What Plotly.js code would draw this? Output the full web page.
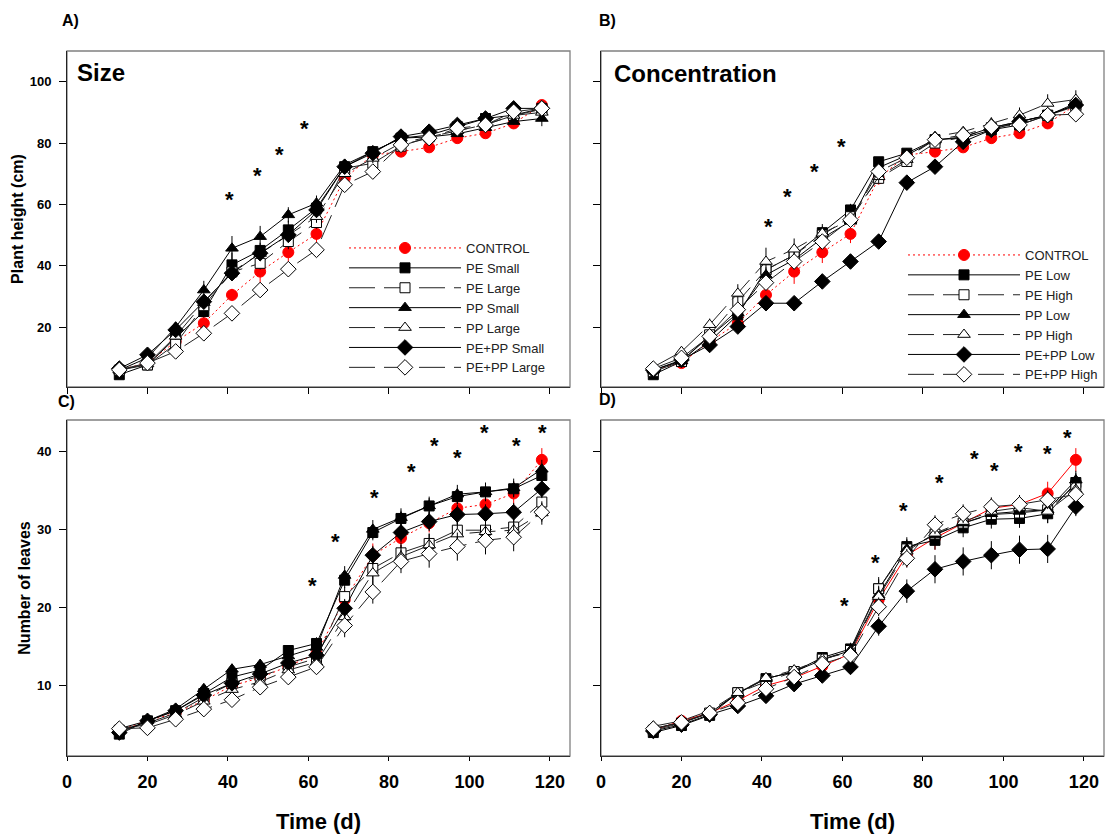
<!DOCTYPE html>
<html><head><meta charset="utf-8">
<script src="https://cdn.plot.ly/plotly-3.0.1.min.js"></script>
<style>html,body{margin:0;padding:0;background:#fff}#chart{width:1105px;height:834px}</style>
</head><body><div id="chart"></div>
<script>
// ---------------- DATA ----------------
const days = [13,20,27,34,41,48,55,62,69,76,83,90,97,104,111,118];

// Plant height (cm)
const controlHeight    = [6.1,8.3,15.3,21.3,30.5,38.1,44.4,50.4,68.5,76.1,77.2,78.6,81.6,83.2,86.4,92.4];
const peSmallHeight    = [4.5,7.7,16.5,25.1,40.3,45.0,51.7,58.8,72.3,77.2,81.6,82.6,85.3,88.0,89.1,91.3];
const peLargeHeight    = [6.0,7.7,14.5,27.0,38.0,40.8,47.9,54.1,71.8,73.4,79.0,82.0,84.0,86.0,89.0,91.0];
const ppSmallHeight    = [6.0,10.0,20.0,32.1,45.7,49.5,56.6,60.4,72.9,77.2,81.6,82.0,83.0,85.0,87.0,88.0];
const ppLargeHeight    = [6.0,8.0,17.0,28.0,38.0,44.0,50.0,56.0,70.0,75.0,80.0,82.0,84.0,86.0,89.0,90.0];
const pePpSmallHeight  = [6.5,11.0,19.1,28.3,37.6,44.1,50.1,58.2,72.3,76.7,82.1,83.7,85.9,88.0,91.3,91.3];
const pePpLargeHeight  = [6.1,8.3,12.1,18.0,24.5,32.1,38.9,45.2,66.4,70.7,79.4,81.6,84.8,85.9,90.2,91.3];

const peLowHeight      = [4.5,8.8,15.3,24.0,38.7,43.5,50.8,58.2,73.9,76.7,81.1,81.6,84.3,85.9,89.1,92.4];
const peHighHeight     = [5.5,8.8,17.5,28.3,38.7,43.5,50.0,56.0,68.5,74.0,80.0,82.0,85.0,87.0,89.0,92.0];
const ppLowHeight      = [6.0,9.0,17.0,24.6,37.0,42.0,49.0,54.5,72.0,76.0,81.0,82.0,85.0,87.0,89.0,93.0];
const ppHighHeight     = [7.0,12.0,20.8,31.0,41.4,45.4,50.6,55.0,69.0,74.6,82.1,83.7,86.4,89.1,92.9,94.2];
const pePpLowHeight    = [6.0,9.3,14.2,20.2,27.8,27.8,34.9,41.4,47.9,67.1,72.3,80.4,84.3,87.0,89.1,92.4];
const pePpHighHeight   = [6.5,10.0,17.0,25.7,34.5,41.4,47.9,55.0,70.7,75.2,81.1,82.6,85.3,85.9,89.1,89.4];

// Number of leaves
const controlLeaves    = [4.3,5.5,6.5,8.1,10.0,11.0,12.5,14.1,21.0,26.7,28.9,30.8,32.7,33.2,34.6,38.9];
const peSmallLeaves    = [3.8,5.5,6.8,9.0,11.1,12.0,14.5,15.4,23.5,29.6,31.4,33.0,34.2,34.8,35.2,36.9];
const peLargeLeaves    = [4.3,5.2,6.5,8.5,10.3,11.2,12.4,13.5,21.4,25.0,27.0,28.2,29.9,29.9,30.3,33.5];
const ppSmallLeaves    = [4.5,5.5,7.0,9.6,12.1,12.7,13.8,14.9,24.1,30.0,31.5,33.0,34.5,34.8,35.3,37.7];
const ppLargeLeaves    = [4.5,5.0,6.3,8.0,9.5,10.5,12.0,13.0,18.8,24.4,26.5,28.0,29.4,29.7,29.9,32.1];
const pePpSmallLeaves  = [4.0,5.5,6.8,8.8,10.3,11.5,12.9,13.9,19.9,26.7,29.6,31.0,31.9,32.0,32.2,35.2];
const pePpLargeLeaves  = [4.5,4.6,5.7,7.0,8.2,9.8,11.1,12.4,17.7,22.0,25.9,26.9,27.8,28.6,29.0,32.2];

const peLowLeaves      = [4.0,4.9,6.2,9.1,10.9,11.8,13.6,14.7,22.4,27.8,28.6,30.2,31.3,31.4,32.0,36.0];
const peHighLeaves     = [4.3,5.2,6.5,9.1,10.5,11.8,13.4,14.5,22.4,27.5,29.4,30.8,31.9,32.1,32.5,35.7];
const ppLowLeaves      = [4.5,5.3,6.5,9.0,10.9,11.8,13.3,14.5,21.6,27.5,29.3,30.8,32.0,32.3,32.5,36.3];
const ppHighLeaves     = [4.8,5.5,6.8,9.1,11.0,12.0,13.4,14.3,21.4,27.2,29.5,31.0,32.3,32.8,32.3,35.1];
const pePpLowLeaves    = [4.2,5.0,6.3,7.4,8.7,10.2,11.3,12.4,17.6,22.1,24.9,25.9,26.7,27.4,27.5,32.9];
const pePpHighLeaves   = [4.5,5.3,6.5,7.8,9.6,11.1,12.8,13.9,20.1,26.3,30.6,32.0,32.9,33.2,33.8,34.5];

// Standard errors
const controlHeightErr   = [0.5,0.8,1.5,1.5,2.0,4.0,3.5,3.0,2.0,1.5,1.2,1.0,1.0,1.0,1.5,1.5];
const peSmallHeightErr   = [0.5,0.8,1.2,2.0,4.0,2.5,3.0,2.0,1.5,1.5,1.2,1.0,1.0,1.0,1.0,1.0];
const peLargeHeightErr   = [0.5,0.8,1.0,1.5,2.0,2.0,2.5,2.0,1.5,1.5,1.0,1.0,1.0,1.0,1.0,1.0];
const ppSmallHeightErr   = [0.5,0.8,1.5,3.0,4.0,3.5,2.5,2.5,1.5,1.5,1.0,1.0,1.0,1.0,1.0,2.5];
const ppLargeHeightErr   = [0.5,0.8,1.0,1.5,2.0,2.0,2.0,2.0,1.5,1.5,1.0,1.0,1.0,1.0,1.0,1.0];
const pePpSmallHeightErr = [0.5,0.8,1.5,2.0,2.5,2.5,2.5,2.5,1.5,1.5,1.0,1.0,1.0,1.0,1.0,1.0];
const pePpLargeHeightErr = [0.5,0.8,1.0,1.5,1.5,2.0,2.0,2.0,1.5,1.5,1.0,1.0,1.0,1.0,1.0,1.0];
const peLowHeightErr     = [0.5,0.8,1.0,1.5,2.0,2.0,2.0,2.0,1.5,1.5,1.2,1.0,1.0,1.0,1.5,1.5];
const peHighHeightErr    = [0.5,0.8,1.2,2.0,2.5,2.5,2.5,2.0,1.5,1.5,1.2,1.0,1.0,1.0,1.5,1.5];
const ppLowHeightErr     = [0.5,0.8,1.5,2.0,2.5,2.5,2.5,2.0,1.5,1.5,1.2,1.0,1.0,1.5,1.5,2.0];
const ppHighHeightErr    = [0.8,1.0,2.0,3.0,4.5,3.5,3.0,2.5,2.0,1.5,1.5,1.5,2.0,2.5,3.0,3.0];
const pePpLowHeightErr   = [0.5,0.8,1.0,1.5,1.5,1.5,1.5,1.5,1.5,1.5,1.2,1.0,1.0,1.0,1.0,1.0];
const pePpHighHeightErr  = [0.5,0.8,1.5,2.0,2.5,2.5,2.0,2.0,1.5,1.5,1.2,1.0,1.0,1.0,1.0,1.0];

const controlLeavesErr   = [0.3,0.3,0.4,0.5,0.6,0.6,0.7,0.8,1.2,1.5,1.5,1.2,1.2,1.2,1.5,1.5];
const peSmallLeavesErr   = [0.3,0.3,0.4,0.5,0.6,0.6,0.7,0.8,1.0,1.0,1.0,1.0,1.0,1.0,1.0,1.0];
const peLargeLeavesErr   = [0.3,0.3,0.4,0.5,0.6,0.6,0.7,0.8,1.2,1.5,1.3,1.2,1.2,1.2,1.2,1.2];
const ppSmallLeavesErr   = [0.3,0.3,0.4,0.6,0.7,0.7,0.8,0.8,1.2,1.2,1.2,1.2,1.2,1.2,1.2,1.2];
const ppLargeLeavesErr   = [0.3,0.3,0.4,0.5,0.6,0.6,0.7,0.8,1.5,1.5,1.5,1.5,1.5,1.5,1.5,1.5];
const pePpSmallLeavesErr = [0.3,0.3,0.4,0.5,0.6,0.6,0.7,0.8,1.2,1.2,1.2,1.2,1.2,1.2,1.2,1.2];
const pePpLargeLeavesErr = [0.3,0.3,0.4,0.5,0.6,0.6,0.7,0.8,1.5,1.5,1.5,1.8,1.8,1.8,1.8,1.2];
const peLowLeavesErr     = [0.3,0.3,0.4,0.5,0.6,0.6,0.7,0.8,1.2,1.2,1.2,1.2,1.2,1.2,1.2,1.2];
const peHighLeavesErr    = [0.3,0.3,0.4,0.5,0.6,0.6,0.7,0.8,1.5,1.2,1.2,1.2,1.2,1.2,1.2,1.2];
const ppLowLeavesErr     = [0.3,0.3,0.4,0.5,0.6,0.6,0.7,0.8,1.2,1.2,1.2,1.2,1.2,1.2,1.2,1.2];
const ppHighLeavesErr    = [0.3,0.3,0.4,0.5,0.6,0.6,0.7,0.8,1.2,1.2,1.2,1.2,1.2,1.5,1.5,1.2];
const pePpLowLeavesErr   = [0.3,0.3,0.4,0.5,0.6,0.6,0.7,0.8,1.2,1.5,1.8,1.8,1.8,1.8,1.8,1.2];
const pePpHighLeavesErr  = [0.3,0.3,0.4,0.5,0.6,0.6,0.7,0.8,1.2,1.2,1.2,1.2,1.2,1.2,1.2,1.2];

// Significance stars (day, value)
const starsA_day = [40.5,47.3,52.7,59.0];
const starsA_val = [63.1,71.2,77.9,86.5];
const starsB_day = [41.6,46.4,53.0,59.8];
const starsB_val = [54.4,64.2,72.3,80.5];
const starsC_day = [60.9,66.6,76.3,85.5,91.3,97.1,103.7,111.6,118.2];
const starsC_val = [23.5,29.1,34.7,38.1,41.4,39.8,43.1,41.4,43.0];
const starsD_day = [60.4,68.3,75.1,84.2,92.7,97.7,103.7,110.9,116.0];
const starsD_val = [20.9,26.4,33.1,36.7,39.7,38.2,40.6,40.3,42.4];

const sizeLabels = ['CONTROL','PE Small','PE Large','PP Small','PP Large','PE+PP Small','PE+PP Large'];
const concLabels = ['CONTROL','PE Low','PE High','PP Low','PP High','PE+PP Low','PE+PP High'];

// ---------------- STYLE ----------------
const FONT = 'Liberation Sans, Arial, Helvetica, sans-serif';
const DASH = '26px,9px';
const styles = [
  {symbol:'circle', color:'#ff0000', line:'#ff0000', dash:'2px,3px', size:11, outline:'#ff0000'},
  {symbol:'square', color:'#000', line:'#000', dash:'solid', size:10, outline:'#000'},
  {symbol:'square', color:'#fff', line:'#222', dash:DASH, size:10, outline:'#000'},
  {symbol:'triangle-up', color:'#000', line:'#000', dash:'solid', size:11, outline:'#000'},
  {symbol:'triangle-up', color:'#fff', line:'#222', dash:DASH, size:11, outline:'#000'},
  {symbol:'diamond', color:'#000', line:'#000', dash:'solid', size:12, outline:'#000'},
  {symbol:'diamond', color:'#fff', line:'#222', dash:DASH, size:12, outline:'#000'}
];

function series(y, err, i, name, xa, ya, legend, show, dashOverride){
  const s = styles[i];
  return {
    type:'scatter', mode:'lines+markers', x:days, y:y, name:name,
    xaxis:xa, yaxis:ya, legend:legend, showlegend:show,
    line:{color:s.line, width:1, dash: dashOverride || s.dash},
    marker:{symbol:s.symbol, size:s.size, color:s.color, line:{color:s.outline, width:1}},
    error_y:{type:'data', array:err, visible:true, color:(i===0?'#ff0000':'#000'), thickness:1, width:0},
    cliponaxis:false, hoverinfo:'x+y+name'
  };
}
// stars are drawn as axis-referenced annotations (positioned by the axes' scales)
function starAnns(xs, ys, xa, ya){
  return xs.map((d,k)=>({text:'*', xref:xa, yref:ya, x:d, y:ys[k], showarrow:false,
    xanchor:'center', yanchor:'middle', yshift:-5,
    font:{family:FONT, size:22, color:'#000', weight:700}}));
}

const hA = [controlHeight,peSmallHeight,peLargeHeight,ppSmallHeight,ppLargeHeight,pePpSmallHeight,pePpLargeHeight];
const hAe = [controlHeightErr,peSmallHeightErr,peLargeHeightErr,ppSmallHeightErr,ppLargeHeightErr,pePpSmallHeightErr,pePpLargeHeightErr];
const hB = [controlHeight,peLowHeight,peHighHeight,ppLowHeight,ppHighHeight,pePpLowHeight,pePpHighHeight];
const hBe = [controlHeightErr,peLowHeightErr,peHighHeightErr,ppLowHeightErr,ppHighHeightErr,pePpLowHeightErr,pePpHighHeightErr];
const lC = [controlLeaves,peSmallLeaves,peLargeLeaves,ppSmallLeaves,ppLargeLeaves,pePpSmallLeaves,pePpLargeLeaves];
const lCe = [controlLeavesErr,peSmallLeavesErr,peLargeLeavesErr,ppSmallLeavesErr,ppLargeLeavesErr,pePpSmallLeavesErr,pePpLargeLeavesErr];
const lD = [controlLeaves,peLowLeaves,peHighLeaves,ppLowLeaves,ppHighLeaves,pePpLowLeaves,pePpHighLeaves];
const lDe = [controlLeavesErr,peLowLeavesErr,peHighLeavesErr,ppLowLeavesErr,ppHighLeavesErr,pePpLowLeavesErr,pePpHighLeavesErr];

const traces = [];
for(let i=0;i<7;i++) traces.push(series(hA[i], hAe[i], i, sizeLabels[i], 'x', 'y', 'legend', true));
for(let i=0;i<7;i++) traces.push(series(hB[i], hBe[i], i, concLabels[i], 'x2', 'y2', 'legend2', true));
for(let i=0;i<7;i++) traces.push(series(lC[i], lCe[i], i, sizeLabels[i], 'x3', 'y3', 'legend', false));
for(let i=0;i<7;i++) traces.push(series(lD[i], lDe[i], i, concLabels[i], 'x4', 'y4', 'legend2', false, i===0?'solid':null));

// ---------------- LAYOUT ----------------
const W=1105, H=834, ML=67, MR=1, MT=51, MB=78;
const PW = W-ML-MR, PH = H-MT-MB;
const px = v => (v-ML)/PW;          // pixel x -> paper
const py = v => 1-(v-MT)/PH;        // pixel y -> paper
const domA = [px(67), px(570)], domB = [px(601), px(1104)];
const domTop = [py(387), py(51)], domBot = [py(756), py(420)];

const tickFont = {family:FONT, size:13, color:'#000', weight:700};
function xax(dom, anchor, labels){
  return {domain:dom, anchor:anchor, range:[0,125], tick0:0, dtick:20, ticks:'outside', ticklen:labels?4:6,
    tickcolor:'#000', showticklabels:labels, ticklabelstandoff:labels?5:0, showline:true, linecolor:'#333', linewidth:1,
    showgrid:false, zeroline:false, automargin:false,
    tickfont:{family:FONT, size:18, color:'#000', weight:700},
    title: labels ? {text:'Time (d)', font:{family:FONT, size:22, color:'#000', weight:700}, standoff:24} : undefined};
}
function yax(dom, anchor, range, dtick, labels, title){
  return {domain:dom, anchor:anchor, range:range, dtick:dtick, tick0:0, ticks:'outside', ticklen:7,
    tickcolor:'#000', showticklabels:labels, ticklabelstandoff:labels?5:0, showline:true, linecolor:'#222', linewidth:1,
    showgrid:false, zeroline:false, automargin:false, tickfont:tickFont,
    title: title ? {text:title, font:{family:FONT, size:16, color:'#000', weight:700}, standoff:2} : undefined};
}
// extra tick-only axes: inward ticks on top of C/D and on right of B/D
function topTicks(base, anchor){
  return {overlaying:base, anchor:anchor, side:'top', range:[0,125], tick0:0, dtick:20, ticks:'inside',
    ticklen:4, tickcolor:'#000', showticklabels:false, showline:false, showgrid:false, zeroline:false, automargin:false};
}
function rightTicks(base, anchor, range, dtick){
  return {overlaying:base, anchor:anchor, side:'right', range:range, tick0:0, dtick:dtick, ticks:'inside',
    ticklen:5, tickcolor:'#000', showticklabels:false, showline:false, showgrid:false, zeroline:false, automargin:false};
}
function frame(xr, yr){
  return {type:'rect', xref:xr+' domain', yref:yr+' domain', x0:0, x1:1, y0:0, y1:1,
    line:{color:'#808080', width:1.3}, layer:'below'};
}
function ann(text, x, y, size, anchor){
  return {text:text, xref:'paper', yref:'paper', x:px(x), y:py(y), xanchor:anchor||'center', yanchor:'middle',
    showarrow:false, font:{family:FONT, size:size, color:'#000', weight:700}};
}
const legendFont = {family:FONT, size:13, color:'#222'};

const layout = {
  width:W, height:H, margin:{l:ML, r:MR, t:MT, b:MB, pad:0},
  paper_bgcolor:'#fff', plot_bgcolor:'rgba(0,0,0,0)', showlegend:true,
  xaxis: xax(domA,'y',false), yaxis: yax(domTop,'x',[0.5,110],20,true,'Plant height (cm)'),
  xaxis2: xax(domB,'y2',false), yaxis2: yax(domTop,'x2',[0.5,110],20,false,null),
  xaxis3: xax(domA,'y3',true), yaxis3: yax(domBot,'x3',[1,44],10,true,'Number of leaves'),
  xaxis4: xax(domB,'y4',true), yaxis4: yax(domBot,'x4',[1,44],10,false,null),
  xaxis5: topTicks('x3','y3'), xaxis6: topTicks('x4','y4'),
  yaxis5: rightTicks('y2','x2',[0.5,110],20), yaxis6: rightTicks('y4','x4',[1,44],10),
  legend:{x:px(344), y:py(233), xanchor:'left', yanchor:'top', bgcolor:'rgba(0,0,0,0)', borderwidth:0,
    font:legendFont, itemwidth:112, tracegroupgap:0},
  legend2:{x:px(903), y:py(240), xanchor:'left', yanchor:'top', bgcolor:'rgba(0,0,0,0)', borderwidth:0,
    font:legendFont, itemwidth:112, tracegroupgap:0},
  shapes:[frame('x','y'), frame('x2','y2'), frame('x3','y3'), frame('x4','y4')],
  annotations:[
    ann('A)', 70, 21, 16), ann('B)', 607, 21, 16), ann('C)', 66, 402, 16), ann('D)', 607, 400, 16),
    ann('Size', 75, 72, 24, 'left'), ann('Concentration', 612, 73, 24, 'left')
  ].concat(starAnns(starsA_day, starsA_val, 'x', 'y'),
           starAnns(starsB_day, starsB_val, 'x2', 'y2'),
           starAnns(starsC_day, starsC_val, 'x3', 'y3'),
           starAnns(starsD_day, starsD_val, 'x4', 'y4'))
};

Plotly.newPlot('chart', traces, layout, {displayModeBar:false, responsive:false, staticPlot:true});
</script>
</body></html>
